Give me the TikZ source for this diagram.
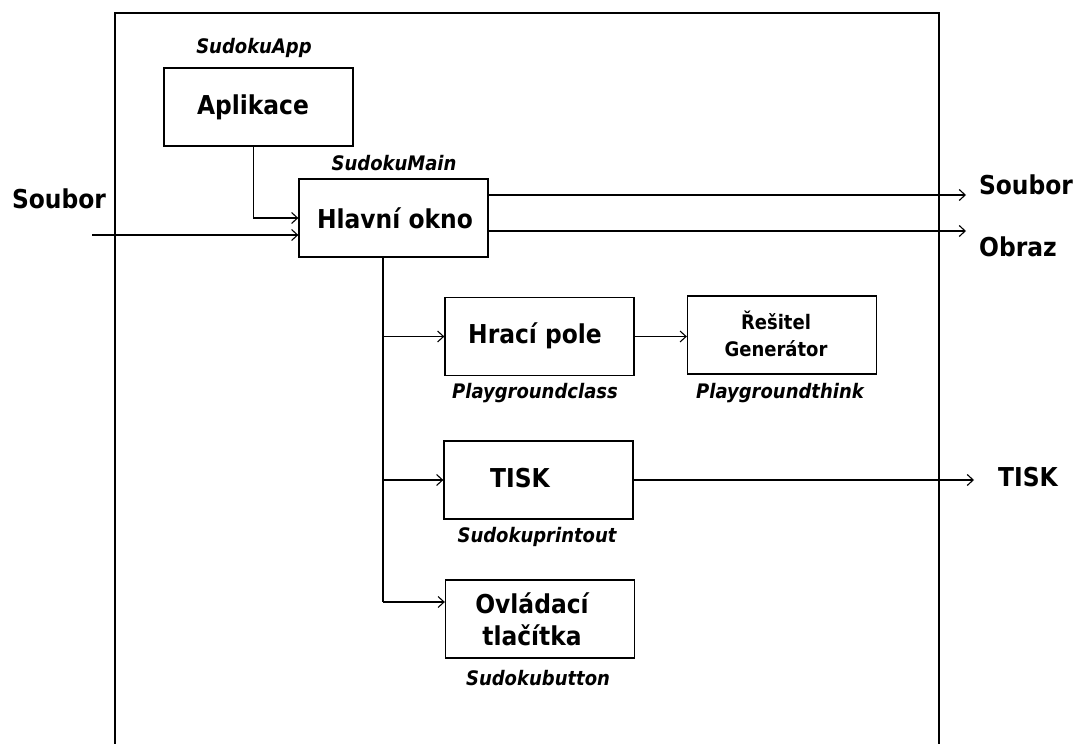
\documentclass[tikz,border=0pt]{standalone}
\usepackage{fontspec}
\setmainfont{DejaVu Sans Condensed}
\usetikzlibrary{arrows.meta}
\tikzset{
  boxnode/.style={draw, line width=1.3pt, minimum width=189pt, minimum height=78pt, inner sep=0pt},
  bigtxt/.style={font=\fontsize{26}{30}\selectfont\bfseries, inner sep=0pt},
  midtxt/.style={font=\fontsize{20}{27}\selectfont\bfseries, inner sep=0pt, align=center},
  cls/.style={font=\fontsize{20}{24}\selectfont\bfseries\itshape, inner sep=0pt},
  conn/.style={line width=1.3pt},
  arr/.style={line width=1.3pt, -{Straight Barb[length=6pt,width=11pt,line width=1.1pt]}}
}
\begin{document}
\begin{tikzpicture}[x=1pt,y=-1pt]
\useasboundingbox (0,0) rectangle (1077,744);
% frame
\draw[conn] (115,744) -- (115,13) -- (939,13) -- (939,744);
% boxes
\node[boxnode] (aplikace) at (258.5,107) {};
\node[bigtxt] (aplikaceT) at (253,107) {Aplikace};
\node[cls] (appL) at (254,48) {SudokuApp};
\node[boxnode] (hlavni) at (393.5,218) {};
\node[bigtxt] (hlavniT) at (395,218) {Hlavní okno};
\node[cls] (mainL) at (394,163) {SudokuMain};
\node[boxnode] (hraci) at (539.5,336.5) {};
\node[bigtxt] (hraciT) at (535,336) {Hrací pole};
\node[cls] (hraciL) at (535,393) {Playgroundclass};
\node[boxnode] (resitel) at (782,335) {};
\node[midtxt] (resitelT) at (776,334) {Řešitel\\Generátor};
\node[cls] (resitelL) at (780,393) {Playgroundthink};
\node[boxnode] (tisk) at (538.5,480) {};
\node[bigtxt] (tiskT) at (520,478) {TISK};
\node[cls] (tiskL) at (537,537) {Sudokuprintout};
\node[boxnode] (ovl) at (540,619) {};
\node[bigtxt, align=center, font=\fontsize{26}{32}\selectfont\bfseries] (ovlT) at (532,619) {Ovládací\\tlačítka};
\node[cls] (ovlL) at (538,678) {Sudokubutton};
% outer labels
\node[bigtxt] (soubIn) at (59,199) {Soubor};
\node[bigtxt] (soubOut) at (1026,185) {Soubor};
\node[bigtxt] (obraz) at (1018,247) {Obraz};
\node[bigtxt] (tiskOut) at (1028,477) {TISK};
% coordinates
\coordinate (inS) at (92,235);
\coordinate (outS) at (966,195);
\coordinate (outO) at (966,231);
\coordinate (outT) at (974,480);
\coordinate (br) at (383,257);
\coordinate (ovlin) at ([yshift=17pt]ovl.west);
% connectors
\draw[arr] ([xshift=-5pt]aplikace.south) |- (hlavni.west);
\draw[arr] (inS) -- (inS -| hlavni.west);
\draw[arr] (hlavni.east |- outS) -- (outS);
\draw[arr] (hlavni.east |- outO) -- (outO);
\draw[conn] (br) -- (br |- ovlin);
\draw[arr] (br |- hraci.west) -- (hraci.west);
\draw[arr] (br |- tisk.west) -- (tisk.west);
\draw[arr] (br |- ovlin) -- (ovlin);
\draw[arr] (hraci.east) -- (hraci.east -| resitel.west);
\draw[arr] (tisk.east) -- (outT);
\end{tikzpicture}
\end{document}
